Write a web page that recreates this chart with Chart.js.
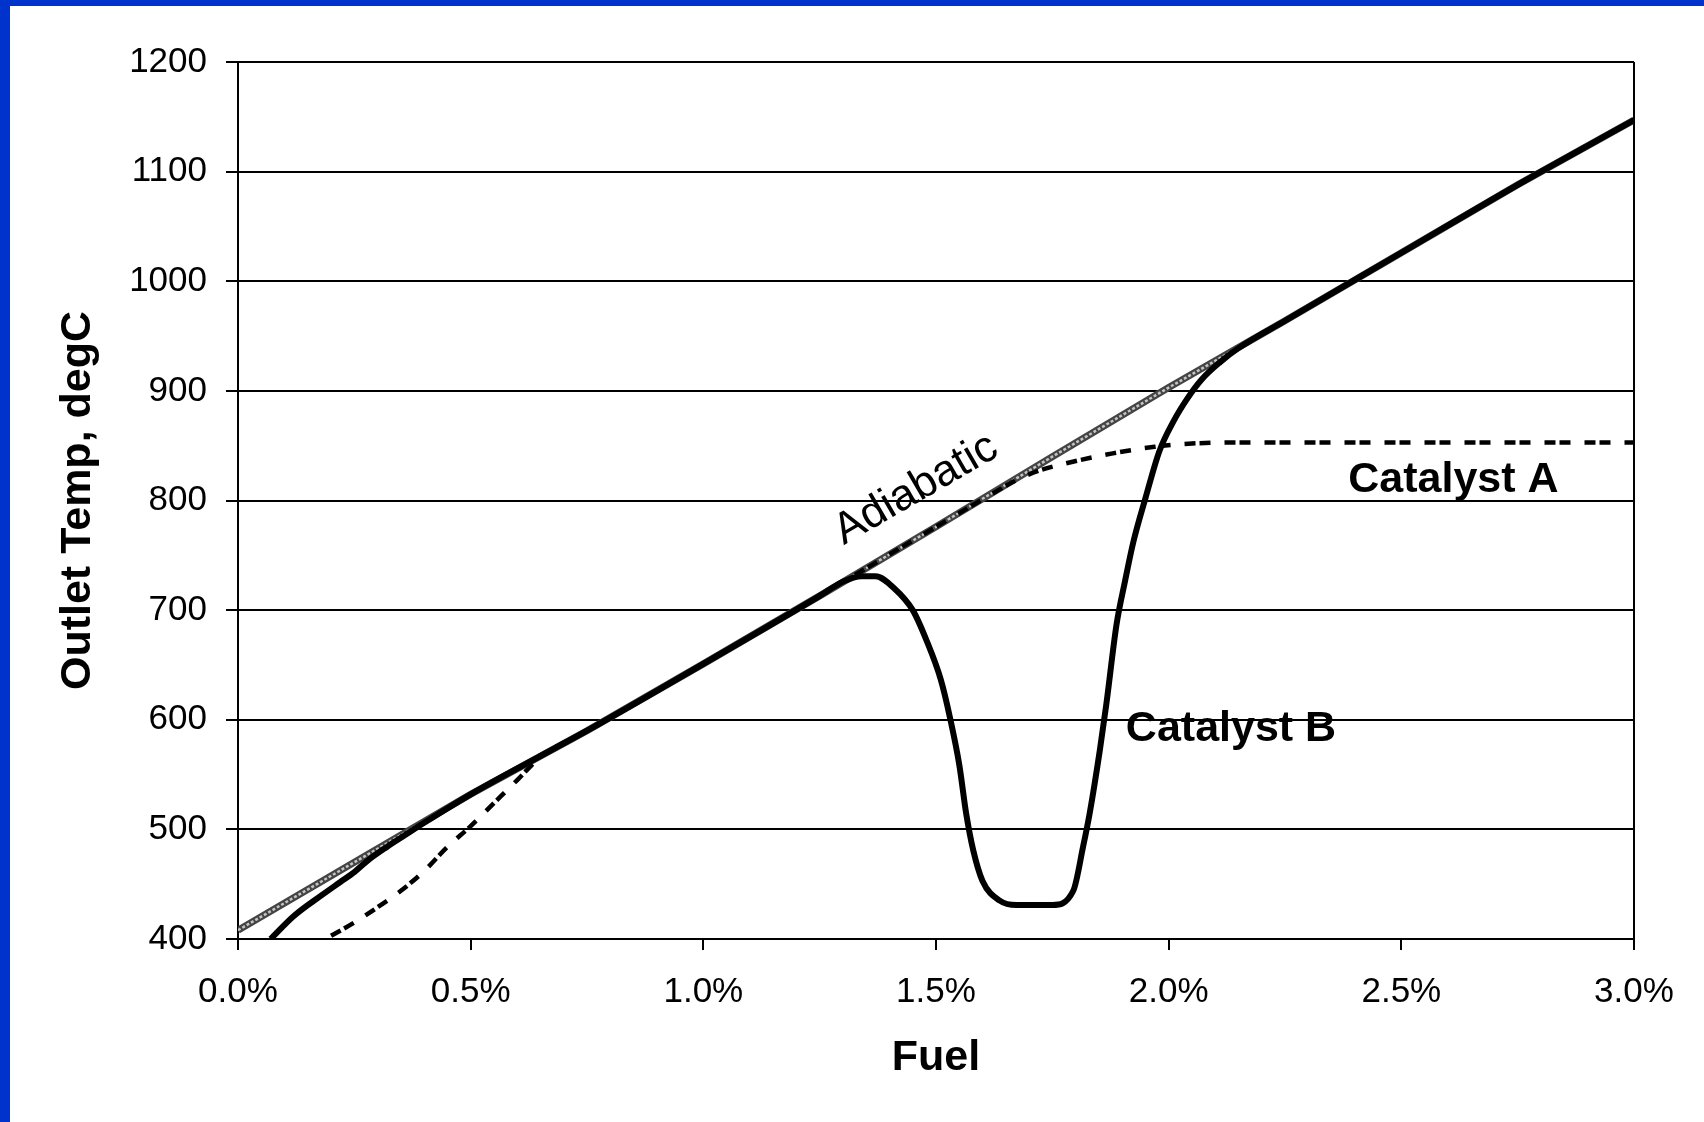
<!DOCTYPE html>
<html>
<head>
<meta charset="utf-8">
<script src="https://cdn.jsdelivr.net/npm/chart.js@4.4.1/dist/chart.umd.min.js"></script>
<style>
    html, body { margin: 0; padding: 0; background: #0033cc; overflow: hidden; }
    #frame { position: absolute; left: 10px; top: 6px; width: 1694px; height: 1116px; background: #fff; }
</style>
</head>
<body>
<div id="frame"><canvas id="myChart" width="1694" height="1116"></canvas></div>
<script>
// Values (fuel in %, temperature in degC)
const adiabaticFuel = [0, 0.25, 0.5, 0.75, 1.0, 1.25, 1.5, 1.75, 2.0, 2.25, 2.5, 2.75, 3.0];
const adiabaticTemp = [408, 470, 532, 590, 651, 713, 776, 840, 903, 964, 1026, 1088, 1147];

const catAFuel = [0.20, 0.25, 0.30, 0.35, 0.40, 0.45, 0.50, 0.55, 0.60, 0.65, 0.75, 1.0, 1.25, 1.5, 1.6, 1.67, 1.72, 1.78, 1.88, 1.97, 2.05, 2.2, 2.5, 3.0];
const catATemp = [403, 415, 429, 444, 462, 484, 503, 524, 545, 566, 590, 651, 713, 776, 801, 818, 827, 834, 843, 849, 852, 853, 853, 853];

const catBFuel = [0.07, 0.12, 0.18, 0.22, 0.25, 0.28, 0.32, 0.36, 0.40, 0.5, 0.75, 1.0, 1.25, 1.30, 1.34, 1.37, 1.41, 1.45, 1.48, 1.51, 1.53, 1.55, 1.565, 1.58, 1.60, 1.637, 1.673, 1.75, 1.795, 1.816, 1.83, 1.852, 1.866, 1.888, 1.906, 1.924, 1.95, 1.98, 2.01, 2.04, 2.07, 2.11, 2.15, 2.25, 2.5, 2.75, 3.0];
const catBTemp = [400, 421, 440, 452, 461, 472, 484, 495, 506, 532, 590, 651, 713, 726, 731, 731, 720, 700, 672, 637, 602, 559, 514, 481, 453, 435, 431, 431, 444, 484, 514, 572, 614, 687, 726, 762, 802, 845, 872, 893, 910, 926, 939, 964, 1026, 1088, 1147];

const xTicks = [0, 0.5, 1.0, 1.5, 2.0, 2.5, 3.0];
const yTicks = [400, 500, 600, 700, 800, 900, 1000, 1100, 1200];

const FONT = '"Liberation Sans", Arial, sans-serif';

function toPoints(xs, ys) {
    return xs.map((v, i) => ({ x: v, y: ys[i] }));
}

// Curve labels drawn at data positions
const curveLabels = {
    id: 'curveLabels',
    afterDatasetsDraw(chart) {
        const { ctx, scales: { x, y } } = chart;
        ctx.save();
        ctx.fillStyle = '#000';

        // Adiabatic (rotated along the line)
        ctx.save();
        ctx.translate(x.getPixelForValue(1.457), y.getPixelForValue(810));
        ctx.rotate(-30 * Math.PI / 180);
        ctx.font = '44px ' + FONT;
        ctx.textAlign = 'center';
        ctx.textBaseline = 'middle';
        ctx.fillText('Adiabatic', 0, 0);
        ctx.restore();

        ctx.textAlign = 'center';
        ctx.textBaseline = 'alphabetic';
        ctx.font = 'bold 43px ' + FONT;
        ctx.fillText('Catalyst A', x.getPixelForValue(2.612), y.getPixelForValue(808));
        ctx.fillText('Catalyst B', x.getPixelForValue(2.134), y.getPixelForValue(581));
        ctx.restore();
    }
};

const ctx = document.getElementById('myChart').getContext('2d');
new Chart(ctx, {
    type: 'scatter',
    data: {
        datasets: [
            {
                label: 'Catalyst B',
                data: toPoints(catBFuel, catBTemp),
                showLine: true,
                borderColor: '#000',
                borderWidth: 6,
                pointRadius: 0,
                cubicInterpolationMode: 'monotone',
                order: 0
            },
            {
                label: 'Catalyst A',
                data: toPoints(catAFuel, catATemp),
                showLine: true,
                borderColor: '#000',
                borderWidth: 4.5,
                borderDash: [11, 4, 11, 14],
                pointRadius: 0,
                cubicInterpolationMode: 'monotone',
                order: 1
            },
            {
                label: 'Adiabatic core',
                data: toPoints(adiabaticFuel, adiabaticTemp),
                showLine: true,
                borderColor: '#c4c4c4',
                borderWidth: 2.5,
                borderDash: [3, 2],
                pointRadius: 0,
                order: 2
            },
            {
                label: 'Adiabatic',
                data: toPoints(adiabaticFuel, adiabaticTemp),
                showLine: true,
                borderColor: '#444',
                borderWidth: 7,
                pointRadius: 0,
                order: 3
            }
        ]
    },
    options: {
        responsive: false,
        animation: false,
        devicePixelRatio: 1,
        layout: {
            padding: { left: 0, top: 56, right: 70, bottom: 0 }
        },
        plugins: {
            legend: { display: false },
            tooltip: { enabled: false }
        },
        scales: {
            x: {
                type: 'linear',
                min: 0,
                max: 3,
                afterBuildTicks: scale => { scale.ticks = xTicks.map(v => ({ value: v })); },
                afterFit: scale => { scale.height = 183; },
                ticks: {
                    color: '#000',
                    font: { family: FONT, size: 35 },
                    padding: 21,
                    maxRotation: 0,
                    callback: v => v.toFixed(1) + '%'
                },
                grid: {
                    drawOnChartArea: true,
                    color: c => (c.tick && c.tick.value === 3) ? '#000' : 'rgba(0,0,0,0)',
                    lineWidth: 2,
                    tickColor: '#000',
                    tickLength: 11
                },
                border: { display: true, color: '#000', width: 2 },
                title: {
                    display: true,
                    text: 'Fuel',
                    color: '#000',
                    font: { family: FONT, size: 43, weight: 'bold' },
                    padding: { top: 0, bottom: 38 }
                }
            },
            y: {
                min: 400,
                max: 1200,
                afterBuildTicks: scale => { scale.ticks = yTicks.map(v => ({ value: v })); },
                afterFit: scale => { scale.width = 228; },
                ticks: {
                    color: '#000',
                    font: { family: FONT, size: 35 },
                    padding: 19,
                    callback: v => String(v)
                },
                grid: {
                    color: '#000',
                    lineWidth: 2,
                    tickColor: '#000',
                    tickLength: 12
                },
                border: { display: true, color: '#000', width: 2 },
                title: {
                    display: true,
                    text: 'Outlet Temp, degC',
                    color: '#000',
                    font: { family: FONT, size: 43, weight: 'bold' },
                    padding: { top: 42, bottom: 0 }
                }
            }
        }
    },
    plugins: [curveLabels]
});
</script>
</body>
</html>
